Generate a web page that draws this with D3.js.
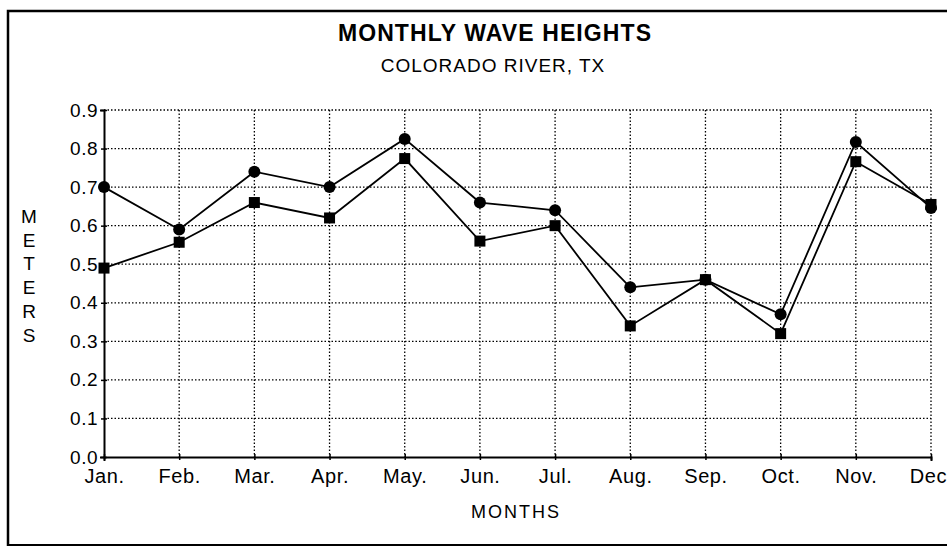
<!DOCTYPE html>
<html>
<head>
<meta charset="utf-8">
<script src="https://cdn.jsdelivr.net/npm/d3@7"></script>
<style>
  body { margin: 0; background: #fff; }
  text { font-family: "Liberation Sans", Arial, sans-serif; fill: #000; }
</style>
</head>
<body>
<svg id="chart" width="947" height="548"></svg>
<script>
// Chart data
const months = ["Jan.", "Feb.", "Mar.", "Apr.", "May.", "Jun.", "Jul.", "Aug.", "Sep.", "Oct.", "Nov.", "Dec"];
const circleSeries = [0.70, 0.59, 0.74, 0.70, 0.825, 0.66, 0.64, 0.44, 0.46, 0.37, 0.817, 0.646];
const squareSeries = [0.49, 0.557, 0.66, 0.62, 0.774, 0.56, 0.60, 0.34, 0.46, 0.32, 0.766, 0.655];
const yTicks = [0, 0.1, 0.2, 0.3, 0.4, 0.5, 0.6, 0.7, 0.8, 0.9];

const svg = d3.select("#chart");

// Plot area
const plotLeft = 104, plotRight = 931, plotTop = 110, plotBottom = 457;

const x = d3.scalePoint().domain(months).range([plotLeft, plotRight]);
const y = d3.scaleLinear().domain([0, 0.9]).range([plotBottom, plotTop]);

// Frame around the whole figure (no right edge in the scan)
svg.append("path")
    .attr("d", "M8,546 L8,11 L947,11")
    .attr("fill", "none")
    .attr("stroke", "#000")
    .attr("stroke-width", 2.5);
svg.append("line")
    .attr("x1", 8).attr("x2", 947)
    .attr("y1", 545).attr("y2", 545)
    .attr("stroke", "#000")
    .attr("stroke-width", 2);

// Gridlines (dotted)
const grid = svg.append("g");
grid.selectAll("line.h")
    .data(yTicks.filter(d => d > 0))
    .join("line")
    .attr("x1", plotLeft).attr("x2", plotRight)
    .attr("y1", d => y(d)).attr("y2", d => y(d))
    .attr("stroke", "#000")
    .attr("stroke-width", 1.3)
    .attr("stroke-dasharray", "1.5,2");
grid.selectAll("line.v")
    .data(months.slice(1))
    .join("line")
    .attr("x1", d => x(d)).attr("x2", d => x(d))
    .attr("y1", plotTop).attr("y2", plotBottom)
    .attr("stroke", "#000")
    .attr("stroke-width", 1.3)
    .attr("stroke-dasharray", "1.5,2");

// Axes
const yAxis = svg.append("g")
    .attr("transform", `translate(${plotLeft},0)`)
    .call(d3.axisLeft(y).tickValues(yTicks).tickFormat(d3.format(".1f")).tickSize(4).tickPadding(2));
const xAxis = svg.append("g")
    .attr("transform", `translate(0,${plotBottom})`)
    .call(d3.axisBottom(x).tickSize(4).tickPadding(3));
[yAxis, xAxis].forEach(a => {
    a.select(".domain").attr("stroke", "#000").attr("stroke-width", 2);
    a.selectAll(".tick line").attr("stroke", "#000").attr("stroke-width", 1.5);
    a.selectAll("text").attr("fill", "#000");
});
yAxis.selectAll("text").style("font-size", "19px").style("letter-spacing", "0.5px");
xAxis.selectAll("text").style("font-size", "20px").style("letter-spacing", "0.6px").attr("dy", "0.95em");
xAxis.selectAll(".tick").filter(d => d === "Dec").select("text").attr("dx", "-3");
yAxis.selectAll(".tick line").attr("x2", 3).attr("x1", -3);
xAxis.selectAll(".tick line").attr("y1", -3).attr("y2", 3);

// Lines
const line = d3.line()
    .x((d, i) => x(months[i]))
    .y(d => y(d));

[circleSeries, squareSeries].forEach(s => {
    svg.append("path")
        .datum(s)
        .attr("fill", "none")
        .attr("stroke", "#000")
        .attr("stroke-width", 1.8)
        .attr("d", line);
});

// Markers
svg.selectAll("circle.pt")
    .data(circleSeries)
    .join("circle")
    .attr("cx", (d, i) => x(months[i]))
    .attr("cy", d => y(d))
    .attr("r", 6)
    .attr("fill", "#000");
svg.selectAll("rect.pt")
    .data(squareSeries)
    .join("rect")
    .attr("x", (d, i) => x(months[i]) - 5.5)
    .attr("y", d => y(d) - 5.5)
    .attr("width", 11)
    .attr("height", 11)
    .attr("fill", "#000");

// Titles
svg.append("text")
    .attr("x", 495).attr("y", 41)
    .attr("text-anchor", "middle")
    .style("font-size", "23px")
    .style("font-weight", "bold")
    .style("letter-spacing", "1.1px")
    .text("MONTHLY WAVE HEIGHTS");
svg.append("text")
    .attr("x", 493).attr("y", 72)
    .attr("text-anchor", "middle")
    .style("font-size", "19px")
    .style("letter-spacing", "1px")
    .text("COLORADO RIVER, TX");
svg.append("text")
    .attr("x", 516).attr("y", 518)
    .attr("text-anchor", "middle")
    .style("font-size", "18px")
    .style("letter-spacing", "2px")
    .text("MONTHS");

// Vertical stacked y label
const yLabel = "METERS".split("");
svg.selectAll("text.ylab")
    .data(yLabel)
    .join("text")
    .attr("x", 29)
    .attr("y", (d, i) => 223 + i * 23.7)
    .attr("text-anchor", "middle")
    .style("font-size", "19px")
    .text(d => d);
</script>
</body>
</html>
